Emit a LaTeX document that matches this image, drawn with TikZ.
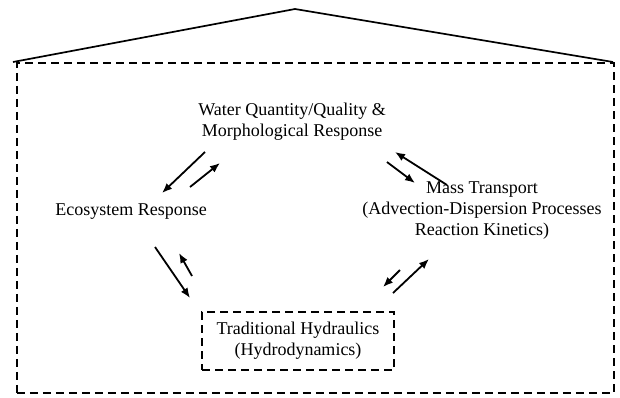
\documentclass[tikz,border=0pt]{standalone}
\usepackage{fontspec}
\setmainfont{Liberation Serif}
\usetikzlibrary{arrows.meta}
\begin{document}
\begin{tikzpicture}[x=1pt,y=-1pt,
  lbl/.style={align=center,font=\fontsize{18}{21}\selectfont,inner sep=0pt},
  dbox/.style={draw,line width=1.8pt,dash pattern=on 8pt off 5pt},
  arr/.style={line width=1.8pt,-{Latex[length=10pt,width=8pt]}}]
\useasboundingbox (0,0) rectangle (620,397);
% roof
\coordinate (rl) at (13,62);
\coordinate (ra) at (295,9);
\coordinate (rr) at (613,62);
\draw[line width=1.7pt] (rl) -- (ra) -- (rr);
% outer dashed frame
\node[dbox,minimum width=597pt,minimum height=330pt,inner sep=0pt,anchor=north west] (frame) at (16,62) {};
% labels
\node[lbl] (water) at (292,122) {Water Quantity/Quality \&\\Morphological Response};
\node[lbl] (eco) at (131,212) {Ecosystem Response};
\node[lbl] (mass) at (482,211) {Mass Transport\\(Advection-Dispersion Processes\\Reaction Kinetics)};
\node[dbox,lbl,minimum width=192pt,minimum height=58pt] (hyd) at (298,341) {Traditional Hydraulics\\(Hydrodynamics)};
% arrow ends
\coordinate (a1s) at (205,152); \coordinate (a1e) at (162,193);
\coordinate (a2s) at (190,187); \coordinate (a2e) at (220,163);
\coordinate (a3s) at (155,247); \coordinate (a3e) at (190,298);
\coordinate (a4s) at (192,276); \coordinate (a4e) at (179,253);
\coordinate (a5s) at (400,270); \coordinate (a5e) at (383,287);
\coordinate (a6s) at (393,293); \coordinate (a6e) at (429,259);
\coordinate (a7s) at (387,162); \coordinate (a7e) at (415,183);
\coordinate (a8s) at (447,185); \coordinate (a8e) at (395,152);
\draw[arr] (a1s) -- (a1e);
\draw[arr] (a2s) -- (a2e);
\draw[arr] (a3s) -- (a3e);
\draw[arr] (a4s) -- (a4e);
\draw[arr] (a5s) -- (a5e);
\draw[arr] (a6s) -- (a6e);
\draw[arr] (a7s) -- (a7e);
\draw[arr] (a8s) -- (a8e);
\end{tikzpicture}
\end{document}
